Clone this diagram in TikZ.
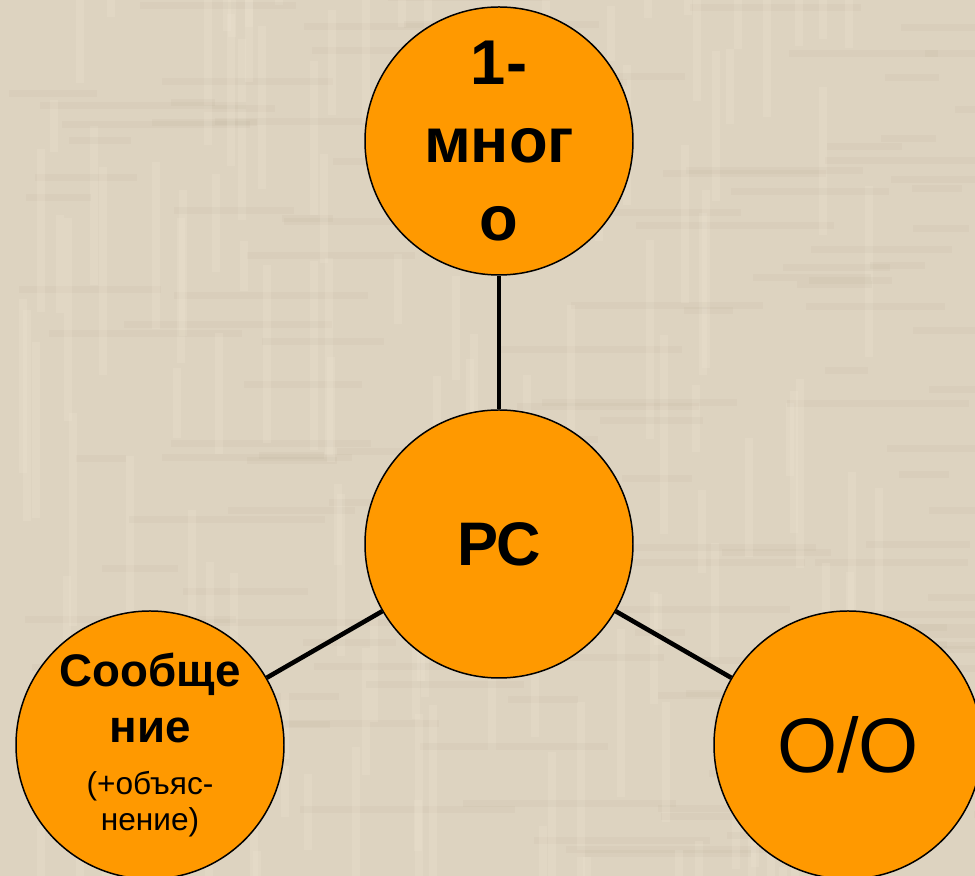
\documentclass[tikz,border=0pt]{standalone}
\usepackage{fontspec}
\setmainfont{Liberation Sans}
\usetikzlibrary{positioning}
\definecolor{Paper}{HTML}{DDD3C0}
\definecolor{PaperDark}{HTML}{B3A68E}
\definecolor{PaperLight}{HTML}{F0E7D6}
\definecolor{Orange}{HTML}{FF9900}

\begin{document}
\begin{tikzpicture}[x=1cm,y=1cm,
    bubble/.style={circle,draw=black,line width=0.85pt,fill=Orange,minimum size=5.36cm,inner sep=0pt,align=center},
    link/.style={draw=black,line width=2.6pt}]
    \useasboundingbox (0,0) rectangle (19.5,17.52);
    \clip (0,0) rectangle (19.5,17.52);
    % paper background
    \fill[Paper] (0,0) rectangle (19.5,17.52);
    \pgfmathsetseed{17}
    \foreach \k in {1,...,140}{
      \pgfmathsetmacro{\xa}{rnd*19.5}
      \pgfmathsetmacro{\ya}{rnd*17.52}
      \pgfmathsetmacro{\la}{0.8+rnd*3.5}
      \fill[PaperDark,opacity=0.09] (\xa,\ya) rectangle ++(\la,0.14);
      \fill[PaperLight,opacity=0.22] (\ya,\xa) rectangle ++(0.16,-\la);
    }
    \node[bubble,font=\bfseries\fontsize{36}{44.5}\selectfont] (many) at (9.98,14.7) {1-\\мног\\о};
    \node[bubble,font=\bfseries\fontsize{35}{42}\selectfont] (rs) at (9.98,6.64) {РС};
    \node[bubble,font=\fontsize{18}{20.5}\selectfont] (msg) at (3.0,2.62)
      {{\bfseries\fontsize{26}{30}\selectfont Сообще}\\[11.5pt]{\bfseries\fontsize{26}{30}\selectfont ние}\\[9pt](+объяс-\\нение)};
    \node[bubble,font=\fontsize{44}{52}\selectfont] (oo) at (16.96,2.62) {О/О};
    \draw[link] (rs) -- (many);
    \draw[link] (rs) -- (msg);
    \draw[link] (rs) -- (oo);
  \end{tikzpicture}
\end{document}
